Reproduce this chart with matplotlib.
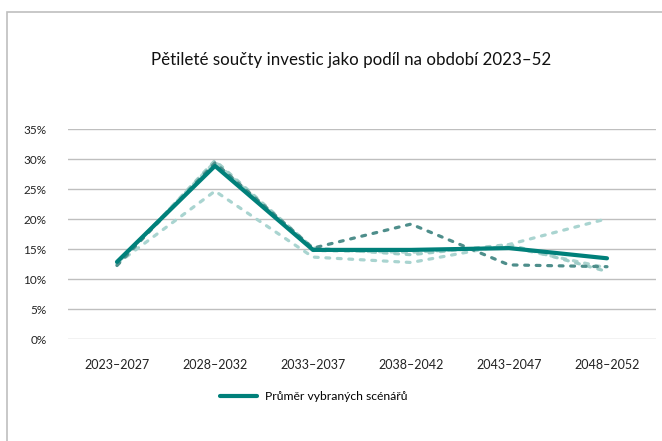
import matplotlib.pyplot as plt
from matplotlib.patches import Rectangle

# periods and scenario shares (share of 2023-52 total investment)
periods = ["2023–2027", "2028–2032", "2033–2037", "2038–2042", "2043–2047", "2048–2052"]
mean_share = [0.129, 0.289, 0.149, 0.149, 0.152, 0.135]
scen_dark = [0.123, 0.294, 0.152, 0.192, 0.124, 0.121]
scen_light = [0.126, 0.247, 0.137, 0.128, 0.158, 0.201]
scen_mid1 = [0.124, 0.298, 0.152, 0.141, 0.158, 0.113]
scen_mid2 = [0.126, 0.296, 0.148, 0.145, 0.154, 0.119]
yticks = [0, 0.05, 0.10, 0.15, 0.20, 0.25, 0.30, 0.35]

plt.rcParams['font.family'] = ['Lato', 'DejaVu Sans']

fig = plt.figure(figsize=(6.62, 4.41), dpi=100)
# chart frame
fig.patches.append(Rectangle((7 / 662, -0.1), 1.0, 1 - 11.5 / 441 + 0.1, transform=fig.transFigure,
                             fill=False, edgecolor="#BFBFBF", linewidth=1.2))

ax = fig.add_axes([68 / 662, 1 - 339.3 / 441, 588 / 662, 210 / 441])
x = list(range(len(periods)))

dash = (0, (1.2, 2.4))
ax.plot(x, scen_mid1, color="#8EC5BF", lw=2.3, linestyle=dash, dash_capstyle="round", alpha=0.85, zorder=2)
ax.plot(x, scen_mid2, color="#9ECCC7", lw=2.3, linestyle=(1.5, (1.2, 2.4)), dash_capstyle="round",
        alpha=0.85, zorder=2)
ax.plot(x, scen_light, color="#A9D4D0", lw=2.3, linestyle=dash, dash_capstyle="round", zorder=2)
ax.plot(x, scen_dark, color="#4E8E8B", lw=2.3, linestyle=dash, dash_capstyle="round", zorder=3)
ax.plot(x, mean_share, color="#00807A", lw=3.0, solid_capstyle="round", zorder=4,
        label="Průměr vybraných scénářů")

ax.set_xlim(-0.5, len(periods) - 0.5)
ax.set_ylim(0, 0.35)
ax.set_yticks(yticks)
ax.set_yticklabels([f"{int(round(v * 100))}%" for v in yticks])
ax.set_xticks(x)
ax.set_xticklabels(periods)
ax.tick_params(length=0, colors="#222222")
ax.tick_params(axis="y", labelsize=8.5, pad=15.5)
ax.tick_params(axis="x", labelsize=9, pad=14)
ax.grid(axis="y", color="#BFBFBF", linewidth=1)
for s in ax.spines.values():
    s.set_visible(False)

fig.text(0.53, 1 - 60 / 441, "Pětileté součty investic jako podíl na období 2023–52",
         ha="center", va="center", fontsize=12.2, color="#111111")

ax.legend(loc="center", bbox_to_anchor=(314 / 662, 1 - 397 / 441), bbox_transform=fig.transFigure,
          frameon=False, fontsize=8.7, handlelength=3.0, handletextpad=0.7)

fig.savefig("out.png", dpi=100)
